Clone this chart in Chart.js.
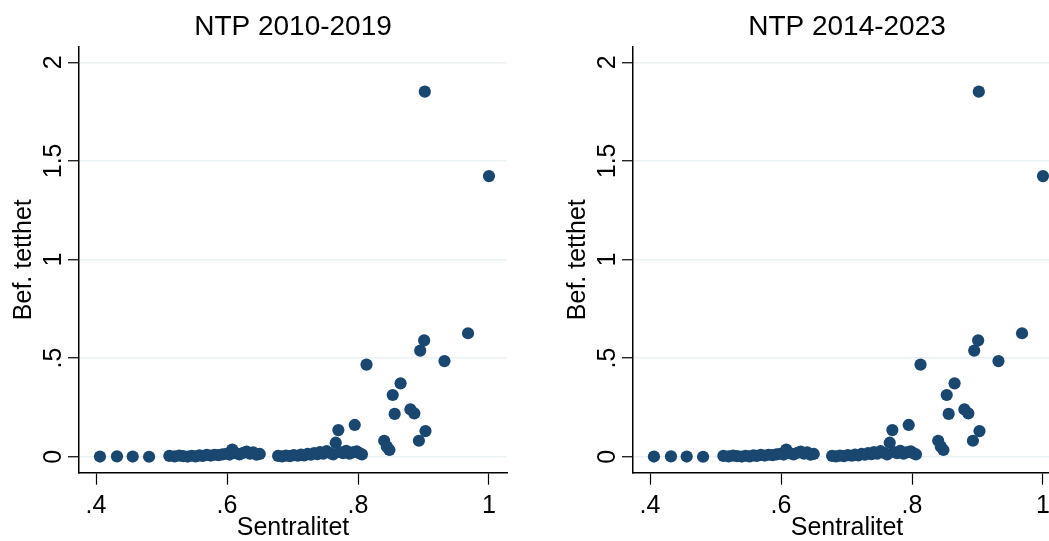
<!DOCTYPE html>
<html>
<head>
<meta charset="UTF-8">
<title>Sentralitet og befolkningstetthet</title>
<script src="https://cdn.jsdelivr.net/npm/chart.js"></script>
<style>
  html, body { margin: 0; padding: 0; background: #fff; overflow: hidden; }
  .panel { position: absolute; top: 0; width: 554px; height: 541px; }
  #p1 { left: 0; }
  #p2 { left: 554px; }
</style>
</head>
<body>
<div class="panel" id="p1"><canvas id="c1" width="554" height="541"></canvas></div>
<div class="panel" id="p2"><canvas id="c2" width="554" height="541"></canvas></div>
<script>
// panel titles
const titles = ['NTP 2010-2019', 'NTP 2014-2023'];

// kommuner: sentralitet (x) og befolkningstetthet (y), same sample in both periods
const sentralitet = [
  0.406, 0.432, 0.456, 0.481,
  0.512, 0.520, 0.527, 0.533, 0.540, 0.546, 0.552, 0.558, 0.563, 0.569,
  0.575, 0.581, 0.587, 0.593, 0.599, 0.604, 0.608, 0.613, 0.619, 0.625,
  0.630, 0.635, 0.640, 0.645, 0.650,
  0.678, 0.684, 0.690, 0.696, 0.702, 0.708, 0.713, 0.718, 0.723, 0.728,
  0.733, 0.738, 0.742, 0.747, 0.752, 0.757, 0.762, 0.766, 0.770, 0.772,
  0.777, 0.782, 0.787, 0.792, 0.795, 0.798, 0.802, 0.806,
  0.813, 0.840, 0.844, 0.848, 0.853, 0.856, 0.865, 0.880, 0.886,
  0.893, 0.895, 0.901, 0.903, 0.902, 0.932, 0.968, 1.000
];
const befTetthet = [
  0.001, 0.002, 0.001, 0.000,
  0.004, 0.002, 0.006, 0.003, 0.001, 0.005, 0.002, 0.007, 0.004, 0.009,
  0.006, 0.010, 0.008, 0.012, 0.015, 0.011, 0.036, 0.018, 0.012, 0.020,
  0.026, 0.016, 0.022, 0.010, 0.014,
  0.004, 0.002, 0.006, 0.003, 0.008, 0.005, 0.011, 0.007, 0.014, 0.010,
  0.018, 0.013, 0.024, 0.016, 0.028, 0.020, 0.012, 0.071, 0.135, 0.024,
  0.018, 0.030, 0.015, 0.022, 0.161, 0.027, 0.018, 0.012,
  0.467, 0.081, 0.051, 0.034, 0.313, 0.217, 0.372, 0.240, 0.220,
  0.081, 0.538, 0.590, 0.130, 1.851, 0.485, 0.626, 1.423
];

const xTicks = [0.4, 0.6, 0.8, 1];
const xTickLabels = ['.4', '.6', '.8', '1'];
const yTicks = [0, 0.5, 1, 1.5, 2];
const yTickLabels = ['0', '.5', '1', '1.5', '2'];

const points = sentralitet.map((x, i) => ({ x: x, y: befTetthet[i] }));
const FONT = "'Liberation Sans', Arial, sans-serif";
const navy = '#1a476f';

function makeChart(id, title) {
  return new Chart(document.getElementById(id), {
    type: 'scatter',
    data: {
      datasets: [{
        data: points,
        backgroundColor: navy,
        borderWidth: 0,
        pointRadius: 6.1,
        pointHoverRadius: 6.1
      }]
    },
    options: {
      responsive: false,
      animation: false,
      events: [],
      layout: { padding: { left: 0, right: 47, top: 0, bottom: 0 } },
      plugins: {
        legend: { display: false },
        tooltip: { enabled: false },
        title: {
          display: true,
          text: title,
          fullSize: false,
          color: '#000',
          font: { family: FONT, size: 28, weight: 'normal', lineHeight: 1.2 },
          padding: { top: 10.5, bottom: 2.6 }
        }
      },
      scales: {
        x: {
          type: 'linear',
          min: 0.374,
          max: 1.0275,
          afterFit: s => { s.height = 68.3; },
          afterBuildTicks: s => { s.ticks = xTicks.map(v => ({ value: v })); },
          ticks: {
            callback: (v, i) => xTickLabels[i],
            color: '#000',
            padding: 6,
            maxRotation: 0,
            font: { family: FONT, size: 25 }
          },
          grid: { display: true, drawOnChartArea: false, drawTicks: true, tickLength: 12, tickColor: '#000', tickWidth: 1.2 },
          border: { display: true, color: '#000', width: 1.5 },
          title: {
            display: true,
            text: 'Sentralitet',
            color: '#000',
            font: { family: FONT, size: 25, lineHeight: 1 },
            padding: { top: 0, bottom: 0 }
          }
        },
        y: {
          type: 'linear',
          min: -0.081,
          max: 2.079,
          afterFit: s => { s.width = 79; },
          afterBuildTicks: s => { s.ticks = yTicks.map(v => ({ value: v })); },
          ticks: {
            callback: (v, i) => yTickLabels[i],
            color: '#000',
            padding: -3,
            minRotation: 90,
            maxRotation: 90,
            crossAlign: 'center',
            font: { family: FONT, size: 25 }
          },
          grid: { display: true, drawOnChartArea: true, color: '#eaf1f3', lineWidth: 1.5, drawTicks: true, tickLength: 11, tickColor: '#000', tickWidth: 1.2 },
          border: { display: true, color: '#000', width: 1.5 },
          title: {
            display: true,
            text: 'Bef. tetthet',
            color: '#000',
            font: { family: FONT, size: 25, lineHeight: 1 },
            padding: { top: 11.5, bottom: 0 }
          }
        }
      }
    }
  });
}

makeChart('c1', titles[0]);
makeChart('c2', titles[1]);
</script>
</body>
</html>
